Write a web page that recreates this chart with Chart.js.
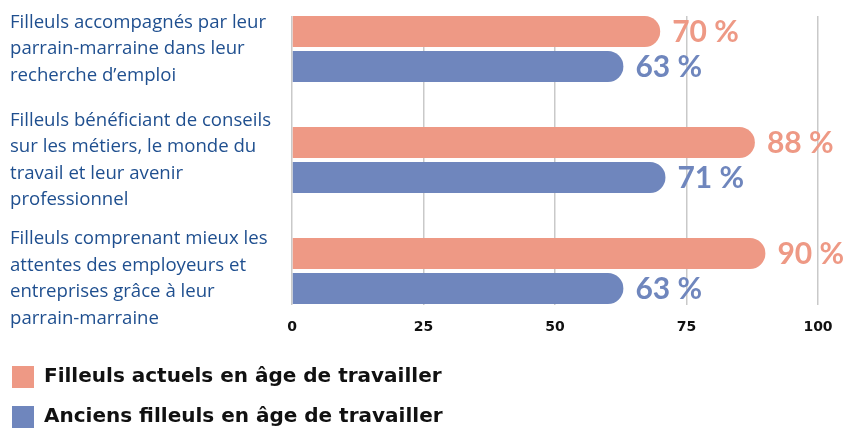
<!DOCTYPE html>
<html>
<head>
<meta charset="utf-8">
<script src="https://cdn.jsdelivr.net/npm/chart.js@4.4.1/dist/chart.umd.min.js"></script>
<style>
  html, body { margin: 0; padding: 0; background: #ffffff; }
  #wrap { width: 850px; height: 432px; }
</style>
</head>
<body>
<div id="wrap"><canvas id="c" width="850" height="432"></canvas></div>
<script>
// ---- data ----
const categories = [
  ["Filleuls accompagnés par leur", "parrain-marraine dans leur", "recherche d’emploi"],
  ["Filleuls bénéficiant de conseils", "sur les métiers, le monde du", "travail et leur avenir", "professionnel"],
  ["Filleuls comprenant mieux les", "attentes des employeurs et", "entreprises grâce à leur", "parrain-marraine"]
];
const seriesNames = ["Filleuls actuels en âge de travailler", "Anciens filleuls en âge de travailler"];
const actuels = [70, 88, 90];
const anciens = [63, 71, 63];
const xTicks = [0, 25, 50, 75, 100];

const salmon = "#EE9985";
const blue = "#6F86BD";
// small vertical nudges of the category label blocks (in category units)
const labelNudge = [0, 0, 0.07];

const valueLabels = {
  id: "valueLabels",
  afterDatasetsDraw(chart) {
    const ctx = chart.ctx;
    ctx.save();
    ctx.font = "bold 30px Lato, 'Open Sans', sans-serif";
    ctx.textBaseline = "middle";
    ctx.textAlign = "left";
    chart.data.datasets.forEach((ds, di) => {
      const meta = chart.getDatasetMeta(di);
      meta.data.forEach((el, i) => {
        ctx.fillStyle = ds.backgroundColor;
        ctx.fillText(ds.data[i].x + " %", el.x + 12, el.y + 1);
      });
    });
    ctx.restore();
  }
};

const legendShift = {
  id: "legendShift",
  afterLayout(chart) {
    chart.legend.left = -6;
  }
};

new Chart(document.getElementById("c"), {
  type: "bar",
  data: {
    datasets: [
      { label: seriesNames[0], data: actuels.map((v, i) => ({ x: v, y: i })), backgroundColor: salmon, borderWidth: 0, borderRadius: 16, categoryPercentage: 0.63, barPercentage: 0.886 },
      { label: seriesNames[1], data: anciens.map((v, i) => ({ x: v, y: i })), backgroundColor: blue, borderWidth: 0, borderRadius: 16, categoryPercentage: 0.63, barPercentage: 0.886 }
    ]
  },
  options: {
    indexAxis: "y",
    responsive: false,
    animation: false,
    layout: { padding: { left: 10, right: 32, top: 16, bottom: -6 } },
    scales: {
      x: {
        type: "linear",
        min: 0, max: 100,
        afterBuildTicks: (s) => { s.ticks = xTicks.map(v => ({ value: v })); },
        afterFit: (s) => { s.height = 43; s.paddingLeft = 0; s.paddingRight = 0; },
        grid: { color: "#c9c9c9", lineWidth: 1.5, drawTicks: false },
        border: { display: false },
        ticks: { padding: 14, maxRotation: 0, color: "#111111", font: { family: "'DejaVu Sans', sans-serif", size: 14, weight: "bold" } }
      },
      y: {
        type: "linear",
        reverse: true,
        offset: false,
        min: -0.2973, max: 2.3063,
        afterBuildTicks: (s) => { s.ticks = categories.map((c, i) => ({ value: i + labelNudge[i], idx: i })); },
        afterFit: (s) => { s.width = 282; s.paddingTop = 0; s.paddingBottom = 0; },
        grid: { display: false, offset: false },
        border: { display: false },
        ticks: {
          autoSkip: false,
          crossAlign: "far",
          color: "#1f4f8f",
          font: { family: "'Open Sans', sans-serif", size: 18.6, lineHeight: 1.42 },
          callback: (v, i) => categories[i]
        }
      }
    },
    plugins: {
      tooltip: { enabled: false },
      legend: {
        position: "bottom",
        align: "start",
        labels: {
          boxWidth: 22, boxHeight: 22, padding: 18,
          color: "#111111",
          font: { family: "'DejaVu Sans', sans-serif", size: 20, weight: "bold" }
        }
      }
    }
  },
  plugins: [valueLabels, legendShift]
});
</script>
</body>
</html>
